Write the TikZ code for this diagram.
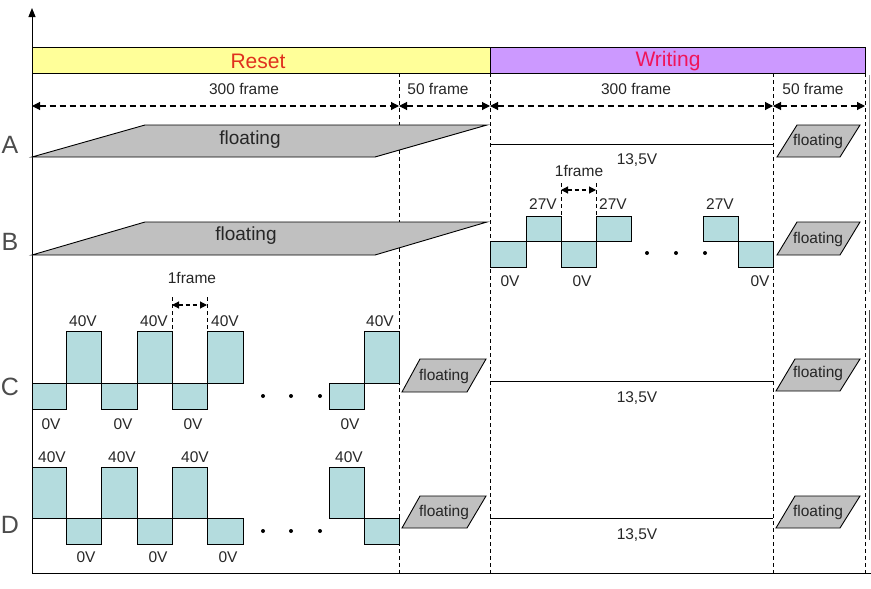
\documentclass[tikz,border=0pt]{standalone}
\usepackage{fontspec}
\setmainfont{Liberation Sans}
\usetikzlibrary{arrows.meta}
\definecolor{resetbg}{HTML}{FFFF99}
\definecolor{writebg}{HTML}{CC99FF}
\definecolor{resettxt}{HTML}{E0301E}
\definecolor{writetxt}{HTML}{F0145A}
\definecolor{wavefill}{HTML}{B4DCDE}
\definecolor{floatfill}{HTML}{C0C0C0}
\tikzset{
  sep/.style={dash pattern=on 4pt off 3pt, line width=1pt},
  dimarrow/.style={dash pattern=on 6pt off 4pt, line width=1.1pt, {Triangle[length=8pt,width=8pt]}-{Triangle[length=8pt,width=8pt]}},
  smallarrow/.style={dash pattern=on 4pt off 3pt, line width=1.1pt, {Triangle[length=7pt,width=7pt]}-{Triangle[length=7pt,width=7pt]}},
  wave/.style={fill=wavefill, draw=black, line width=1pt},
  flt/.style={fill=floatfill, draw=black, line width=0.9pt},
  lbl/.style={font=\fontsize{15.5}{17}\selectfont, text=black!85, inner sep=0pt},
  bigflt/.style={font=\fontsize{19}{21}\selectfont, text=black!85, inner sep=0pt},
  smflt/.style={font=\fontsize{15.5}{17}\selectfont, text=black!85, inner sep=0pt},
  rowlbl/.style={font=\fontsize{25}{27}\selectfont, text=black!70, inner sep=0pt},
  lvl/.style={line width=0.8pt}
}
\begin{document}
\begin{tikzpicture}[x=1pt,y=-1pt]
\useasboundingbox (0,0) rectangle (871,589);
% axes
\coordinate (o) at (32,573);
\coordinate (ytop) at (32,8);
\coordinate (xend) at (871,573);
\draw[line width=1pt,-{Triangle[length=9pt,width=7pt]}] (o) -- (ytop);
\draw[line width=1pt] (o) -- (xend);
% header
\draw[fill=resetbg, line width=1pt] (32,47) rectangle (490,73);
\draw[fill=writebg, line width=1pt] (490,47) rectangle (865,73);
\node[font=\fontsize{21}{23}\selectfont, text=resettxt] (reset) at (258,61) {Reset};
\node[font=\fontsize{21}{23}\selectfont, text=writetxt] (writing) at (668,61) {Writing};
% separators
\coordinate (s1t) at (399,73); \coordinate (s1b) at (399,573);
\coordinate (s2t) at (490,73); \coordinate (s2b) at (490,573);
\coordinate (s3t) at (773,73); \coordinate (s3b) at (773,573);
\coordinate (s4t) at (865,73); \coordinate (s4b) at (865,573);
\draw[sep] (s1t) -- (s1b);
\draw[sep] (s2t) -- (s2b);
\draw[sep] (s3t) -- (s3b);
\draw[sep] (s4t) -- (s4b);
\draw[black!40, line width=0.8pt] (869,75) -- (869,292);
\draw[black!70, line width=0.8pt] (869,310) -- (869,540);
% dimension arrows
\coordinate (d0) at (32,106); \coordinate (d1) at (399,106);
\coordinate (d2) at (490,106); \coordinate (d3) at (773,106);
\coordinate (d4) at (865,106);
\draw[dimarrow] (d0) -- (d1);
\draw[dimarrow] (d1) -- (d2);
\draw[dimarrow] (d2) -- (d3);
\draw[dimarrow] (d3) -- (d4);
\node[lbl] (f1) at (244,89) {300 frame};
\node[lbl] (f2) at (438,89) {50 frame};
\node[lbl] (f3) at (636,89) {300 frame};
\node[lbl] (f4) at (813,89) {50 frame};
% row labels
\node[rowlbl] (la) at (10,145) {A};
\node[rowlbl] (lb) at (10,242) {B};
\node[rowlbl] (lc) at (10,387) {C};
\node[rowlbl] (ld) at (10,525) {D};
% Row A
\draw[flt] (32,157) -- (145,125) -- (487,125) -- (375,157) -- cycle;
\node[bigflt] (afl) at (250,140) {floating};
\coordinate (aw1) at (490,144); \coordinate (aw2) at (773,144);
\draw[lvl] (aw1) -- (aw2);
\node[lbl] (av) at (637,160) {13,5V};
\draw[flt] (777,157) -- (797,125) -- (860,125) -- (840,157) -- cycle;
\node[smflt] (afl2) at (818,141) {floating};
% Row B
\draw[flt] (32,255) -- (145,222) -- (487,222) -- (375,255) -- cycle;
\node[bigflt] (bfl) at (246,236) {floating};
\foreach \a/\b in {490/526, 561/596, 738/773}
  \draw[wave] (\a,241) rectangle (\b,267);
\foreach \a/\b in {526/561, 596/631, 703/738}
  \draw[wave] (\a,216) rectangle (\b,241);
\foreach \x in {647,676,705}
  \fill (\x,253) circle (2pt);
\foreach \x/\n in {543/b1, 613/b2, 720/b3}
  \node[lbl] (\n) at (\x,204) {27V};
\foreach \x/\n in {510/b4, 582/b5, 760/b6}
  \node[lbl] (\n) at (\x,281) {0V};
\coordinate (bfa) at (561,183); \coordinate (bfb) at (596,183);
\draw[sep, line width=0.9pt] (bfa) -- (561,216);
\draw[sep, line width=0.9pt] (bfb) -- (596,216);
\coordinate (bfl1) at (561,190); \coordinate (bfr1) at (596,190);
\draw[smallarrow] (bfl1) -- (bfr1);
\node[lbl] (b1f) at (579,171) {1frame};
\draw[flt] (777,255) -- (797,222) -- (860,222) -- (840,255) -- cycle;
\node[smflt] (bfl2) at (818,239) {floating};
% Row C
\foreach \a/\b in {32/66, 101/137, 172/207, 329/364}
  \draw[wave] (\a,383) rectangle (\b,409);
\foreach \a/\b in {66/101, 137/172, 207/243, 364/399}
  \draw[wave] (\a,331) rectangle (\b,383);
\foreach \x in {263,291,320}
  \fill (\x,396) circle (2pt);
\foreach \x/\n in {83/c1, 154/c2, 225/c3, 380/c4}
  \node[lbl] (\n) at (\x,321) {40V};
\foreach \x/\n in {51/c5, 123/c6, 193/c7, 350/c8}
  \node[lbl] (\n) at (\x,424) {0V};
\coordinate (cfa) at (172,297); \coordinate (cfb) at (207,297);
\draw[sep, line width=0.9pt] (cfa) -- (172,331);
\draw[sep, line width=0.9pt] (cfb) -- (207,331);
\coordinate (cfl1) at (172,305); \coordinate (cfr1) at (207,305);
\draw[smallarrow] (cfl1) -- (cfr1);
\node[lbl] (c1f) at (192,278) {1frame};
\draw[flt] (402,392) -- (420,359) -- (486,359) -- (467,392) -- cycle;
\node[smflt] (cfl) at (444,376) {floating};
\coordinate (cw1) at (490,381); \coordinate (cw2) at (773,381);
\draw[lvl] (cw1) -- (cw2);
\node[lbl] (cv) at (637,398) {13,5V};
\draw[flt] (776,391) -- (795,359) -- (860,359) -- (840,391) -- cycle;
\node[smflt] (cfl2) at (818,373) {floating};
% Row D
\foreach \a/\b in {32/66, 101/137, 172/207, 329/364}
  \draw[wave] (\a,467) rectangle (\b,518);
\foreach \a/\b in {66/101, 137/172, 207/243, 364/399}
  \draw[wave] (\a,518) rectangle (\b,544);
\foreach \x in {263,291,320}
  \fill (\x,531) circle (2pt);
\foreach \x/\n in {52/d1l, 122/d2l, 195/d3l, 349/d4l}
  \node[lbl] (\n) at (\x,457) {40V};
\foreach \x/\n in {86/d5l, 158/d6l, 228/d7l}
  \node[lbl] (\n) at (\x,557) {0V};
\draw[flt] (402,528) -- (420,496) -- (486,496) -- (467,528) -- cycle;
\node[smflt] (dfl) at (444,512) {floating};
\coordinate (dw1) at (490,518); \coordinate (dw2) at (773,518);
\draw[lvl] (dw1) -- (dw2);
\node[lbl] (dv) at (637,535) {13,5V};
\draw[flt] (776,528) -- (795,496) -- (860,496) -- (840,528) -- cycle;
\node[smflt] (dfl2) at (818,512) {floating};
\end{tikzpicture}
\end{document}
